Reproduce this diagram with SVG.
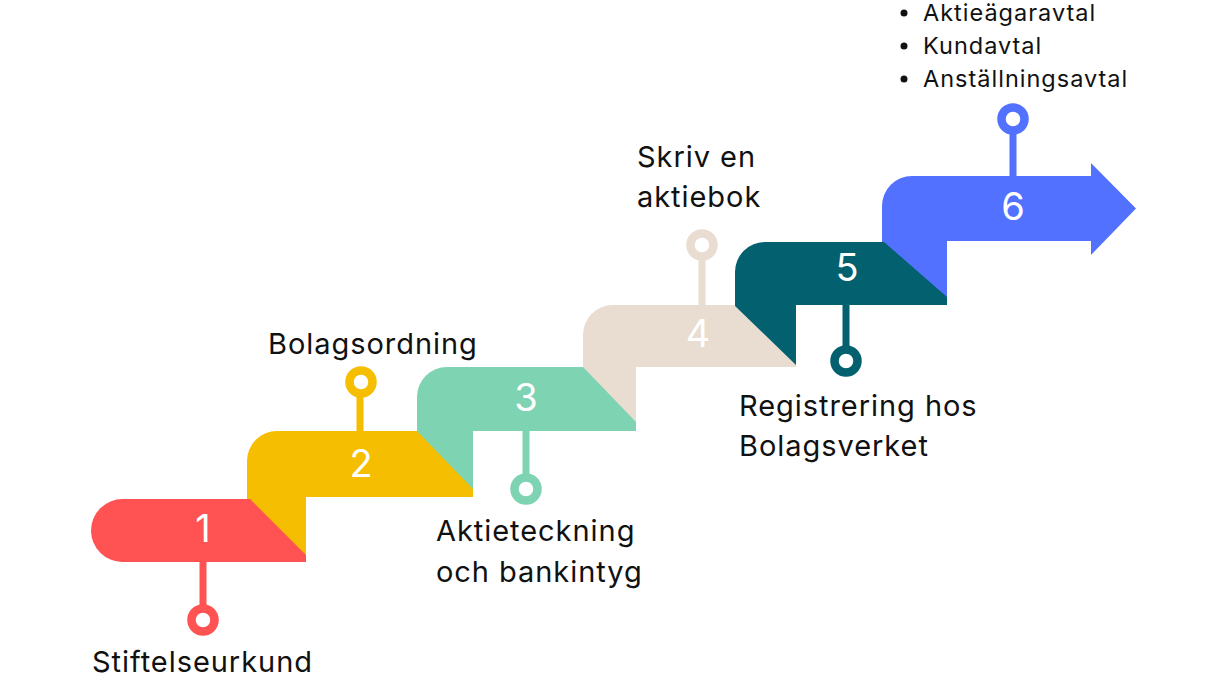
<svg xmlns="http://www.w3.org/2000/svg" width="1229" height="691" viewBox="0 0 1229 691">
<style>
.lbl{font-family:Inter,"Noto Sans",sans-serif;font-size:29px;fill:#111;letter-spacing:0.95px}
.bul{font-family:Inter,"Noto Sans",sans-serif;font-size:23.5px;fill:#111;letter-spacing:1px}
.num{font-family:Inter,"Noto Sans",sans-serif;font-size:38px;fill:#fff;text-anchor:middle}
.stem{stroke-width:7;fill:none}
.ring{stroke-width:8.5;fill:#fff}
</style>
<rect width="1229" height="691" fill="#fff"/>
<g id="step6">
<path d="M882,206 A30,30 0 0 1 912,176 L1091,176 L1091,163 L1136,208.5 L1091,255 L1091,241 L947,241 L947,305 L882,305 Z" fill="#5271FF"/>
<text class="num" x="1013" y="220">6</text>
</g>
<g id="step5">
<path d="M735,272 A30,30 0 0 1 765,242 L884,242 L947,297 L947,305 L796,305 L796,367 L735,367 Z" fill="#02606F"/>
<text class="num" x="847" y="281">5</text>
</g>
<g id="step4">
<path d="M583,335 A30,30 0 0 1 613,305 L734,305 L796,365 L796,367 L636,367 L636,431 L583,431 Z" fill="#E8DDD0"/>
<text class="num" x="698" y="347">4</text>
</g>
<g id="step3">
<path d="M417,397 A30,30 0 0 1 447,367 L583,367 L636,422 L636,431 L473,431 L473,497 L417,497 Z" fill="#7DD3B2"/>
<text class="num" x="526" y="411">3</text>
</g>
<g id="step2">
<path d="M247,461 A30,30 0 0 1 277,431 L417,431 L473,489 L473,497 L306,497 L306,562 L247,562 Z" fill="#F5BE00"/>
<text class="num" x="361" y="477">2</text>
</g>
<g id="step1">
<path d="M122.5,499 L250,499 L306,555 L306,562 L122.5,562 A31.5,31.5 0 0 1 122.5,499 Z" fill="#FF5252"/>
<text class="num" x="203" y="542">1</text>
</g>
<g id="connectors">
<line class="stem" x1="203" y1="562" x2="203" y2="608" stroke="#FF5252"/>
<circle class="ring" cx="203" cy="620" r="11.5" stroke="#FF5252"/>
<line class="stem" x1="360" y1="394" x2="360" y2="431" stroke="#F5BE00"/>
<circle class="ring" cx="361" cy="382" r="11.5" stroke="#F5BE00"/>
<line class="stem" x1="526" y1="431" x2="526" y2="477" stroke="#7DD3B2"/>
<circle class="ring" cx="526" cy="489" r="11.5" stroke="#7DD3B2"/>
<line class="stem" x1="702" y1="257" x2="702" y2="305" stroke="#E8DDD0"/>
<circle class="ring" cx="702" cy="245" r="11.5" stroke="#E8DDD0"/>
<line class="stem" x1="846" y1="305" x2="846" y2="349" stroke="#02606F"/>
<circle class="ring" cx="846" cy="361" r="11.5" stroke="#02606F"/>
<line class="stem" x1="1013" y1="131" x2="1013" y2="176" stroke="#5271FF"/>
<circle class="ring" cx="1013" cy="119" r="11.5" stroke="#5271FF"/>
</g>
<g id="labels">
<text class="lbl" x="92" y="672">Stiftelseurkund</text>
<text class="lbl" x="268" y="354">Bolagsordning</text>
<text class="lbl" x="436" y="541">Aktieteckning</text>
<text class="lbl" x="436" y="582">och bankintyg</text>
<text class="lbl" x="637" y="167">Skriv en</text>
<text class="lbl" x="637" y="207">aktiebok</text>
<text class="lbl" x="739" y="416">Registrering hos</text>
<text class="lbl" x="739" y="456">Bolagsverket</text>
<circle cx="904" cy="13" r="3.5" fill="#111"/>
<text class="bul" x="923" y="21">Aktieägaravtal</text>
<circle cx="904" cy="46" r="3.5" fill="#111"/>
<text class="bul" x="923" y="54">Kundavtal</text>
<circle cx="904" cy="79" r="3.5" fill="#111"/>
<text class="bul" x="923" y="87">Anställningsavtal</text>
</g>
</svg>
